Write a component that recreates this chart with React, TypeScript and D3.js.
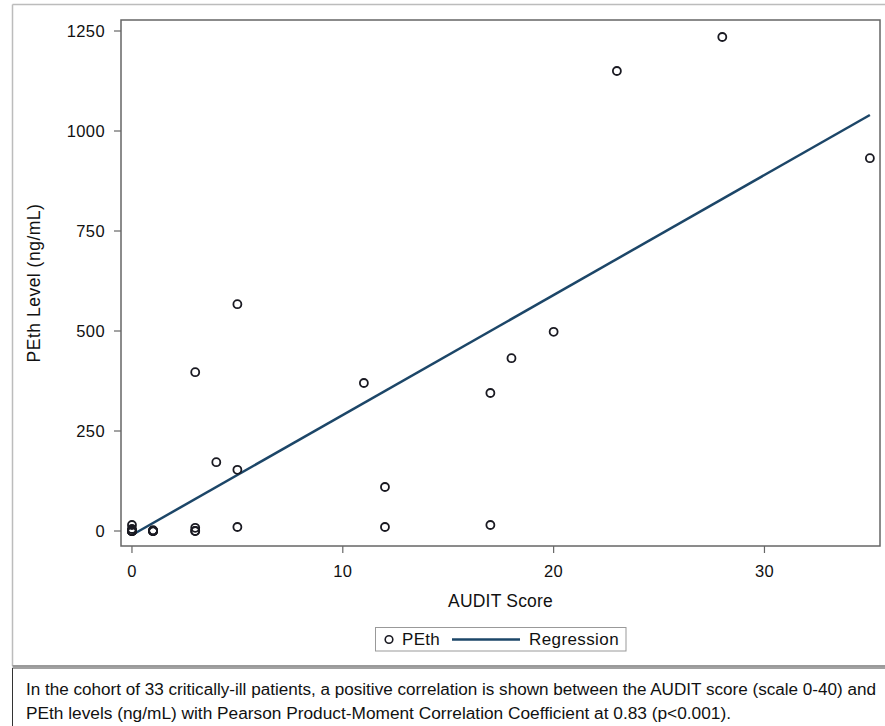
import React from "react";
import * as d3 from "d3";

// AUDIT score (x) and PEth level (y), 33 patients (overlaps near the origin)
const auditScore = [0, 0, 0, 0, 0, 0, 0, 0, 0, 1, 1, 1, 1, 1, 3, 3, 3, 3, 4, 5, 5, 5, 11, 12, 12, 17, 17, 18, 20, 23, 28, 35, 1];
const pethLevel = [0, 0, 0, 0, 0, 0, 0, 15, 5, 0, 0, 0, 0, 0, 0, 0, 8, 397, 172, 567, 153, 10, 370, 110, 10, 345, 15, 432, 498, 1150, 1235, 932, 2];

// Regression line endpoints
const regX = [0, 35];
const regY = [-10, 1040];

const xTicks = [0, 10, 20, 30];
const yTicks = [0, 250, 500, 750, 1000, 1250];

const xTitle = "AUDIT Score";
const yTitle = "PEth Level (ng/mL)";
const legendLabels = ["PEth", "Regression"];
const captionLines = [
  "In the cohort of 33 critically-ill patients, a positive correlation is shown between the AUDIT score (scale 0-40) and",
  "PEth levels (ng/mL) with Pearson Product-Moment Correlation Coefficient at 0.83 (p<0.001).",
];

const W = 885;
const H = 726;
const plot = { left: 121, top: 20, right: 880, bottom: 546 };

const LINE_COLOR = "#1c4668";
const MARK_COLOR = "#1a1a22";
const AXIS_COLOR = "#666";
const FONT = "'Liberation Sans', Arial, sans-serif";

export default function App() {
  const x = d3.scaleLinear().domain([-0.52, 35.48]).range([plot.left, plot.right]);
  const y = d3.scaleLinear().domain([-37.5, 1277.5]).range([plot.bottom, plot.top]);

  const lineGen = d3
    .line<number>()
    .x((_, i) => x(regX[i]))
    .y((d) => y(d));

  const cx = (plot.left + plot.right) / 2;
  const cy = (plot.top + plot.bottom) / 2;

  return (
    <svg
      width={W}
      height={H}
      style={{ position: "absolute", left: 0, top: 0, background: "#fff" }}
      fontFamily={FONT}
    >
      {/* outer chart border */}
      <line x1={12.5} y1={4.5} x2={W} y2={4.5} stroke="#bcbcbc" strokeWidth={1.5} />
      <line x1={12.5} y1={4.5} x2={12.5} y2={666} stroke="#bcbcbc" strokeWidth={1.5} />
      <line x1={12.5} y1={666} x2={W} y2={666} stroke="#9a9a9a" strokeWidth={2} />
      {/* caption box */}
      <line x1={12.5} y1={668} x2={W} y2={668} stroke="#444" strokeWidth={1} />
      <line x1={12.5} y1={668} x2={12.5} y2={H} stroke="#333" strokeWidth={1} />

      {/* plot frame */}
      <rect
        x={plot.left}
        y={plot.top}
        width={plot.right - plot.left}
        height={plot.bottom - plot.top}
        fill="none"
        stroke={AXIS_COLOR}
        strokeWidth={1.5}
      />

      {/* y ticks */}
      {yTicks.map((t) => (
        <g key={"y" + t}>
          <line x1={plot.left - 7} x2={plot.left} y1={y(t)} y2={y(t)} stroke={AXIS_COLOR} strokeWidth={1.2} />
          <text x={105} y={y(t)} dy="0.35em" textAnchor="end" fontSize={16.5} letterSpacing={0.4} fill="#111">
            {t}
          </text>
        </g>
      ))}

      {/* x ticks */}
      {xTicks.map((t) => (
        <g key={"x" + t}>
          <line x1={x(t)} x2={x(t)} y1={plot.bottom} y2={plot.bottom + 7} stroke={AXIS_COLOR} strokeWidth={1.2} />
          <text x={x(t)} y={571} dy="0.35em" textAnchor="middle" fontSize={16.5} letterSpacing={0.4} fill="#111">
            {t}
          </text>
        </g>
      ))}

      {/* axis titles */}
      <text x={cx} y={601} dy="0.35em" textAnchor="middle" fontSize={17.5} letterSpacing={0.2} fill="#111">
        {xTitle}
      </text>
      <text
        transform={`translate(34, ${cy}) rotate(-90)`}
        dy="0.35em"
        textAnchor="middle"
        fontSize={17.5}
        letterSpacing={0.5}
        fill="#111"
      >
        {yTitle}
      </text>

      {/* regression */}
      <path d={lineGen(regY) || ""} fill="none" stroke={LINE_COLOR} strokeWidth={2.5} />

      {/* points */}
      {auditScore.map((a, i) => (
        <circle
          key={"p" + i}
          cx={x(a)}
          cy={y(pethLevel[i])}
          r={4}
          fill="none"
          stroke={MARK_COLOR}
          strokeWidth={1.8}
        />
      ))}

      {/* legend */}
      <rect x={375.5} y={627.5} width={250.5} height={23.5} fill="#fff" stroke="#999" strokeWidth={1} />
      <circle cx={389} cy={639.5} r={3.8} fill="none" stroke={MARK_COLOR} strokeWidth={1.6} />
      <text x={402} y={639.5} dy="0.35em" fontSize={17} letterSpacing={0.3} fill="#111">
        {legendLabels[0]}
      </text>
      <line x1={452} x2={520} y1={639.5} y2={639.5} stroke={LINE_COLOR} strokeWidth={2.5} />
      <text x={529} y={639.5} dy="0.35em" fontSize={17} letterSpacing={0.4} fill="#111">
        {legendLabels[1]}
      </text>

      {/* caption */}
      {captionLines.map((line, i) => (
        <text
          key={"c" + i}
          x={26}
          y={689 + i * 24}
          dy="0.35em"
          fontSize={16}
          fill="#111"
          fontFamily="'Liberation Sans Narrow', 'Arial Narrow', 'Liberation Sans', sans-serif"
          textLength={i === 0 ? 850 : 705}
          lengthAdjust="spacingAndGlyphs"
        >
          {line}
        </text>
      ))}
    </svg>
  );
}
